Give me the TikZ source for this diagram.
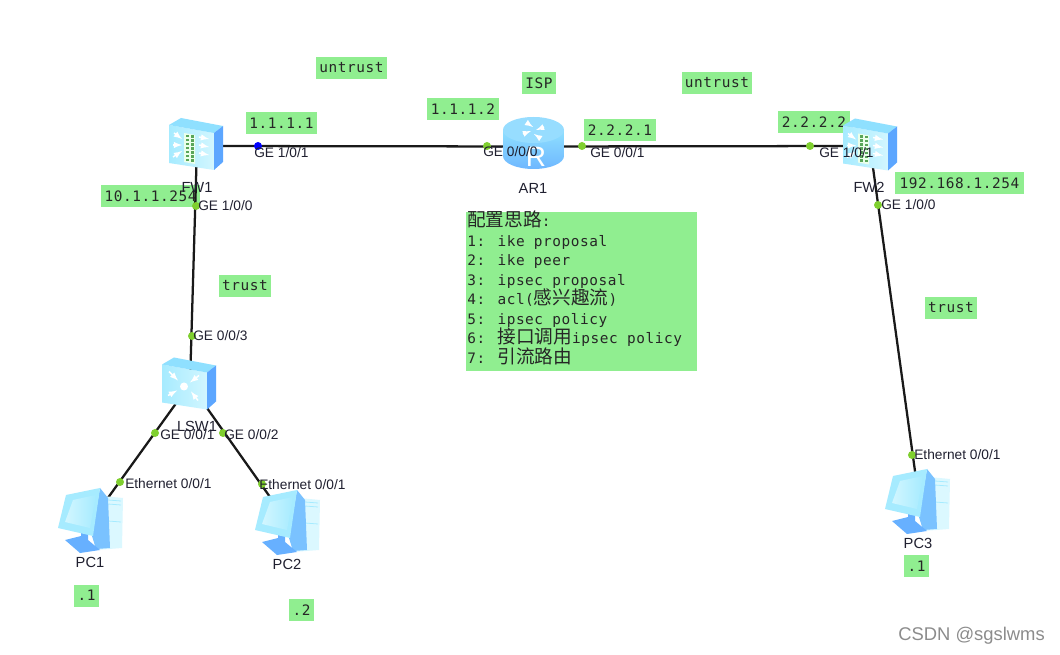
\documentclass[tikz,border=0pt]{standalone}
\usepackage{fontspec}
\setmainfont{Liberation Sans}
\newfontfamily\labfont[LetterSpace=4]{DejaVu Sans Mono}
\newfontfamily\cjkfont{Noto Sans CJK SC}
\newcommand{\zh}[1]{{\cjkfont\fontsize{14}{14.6}\selectfont #1}}
\newcommand{\notefont}{\labfont\fontsize{10.8}{14.6}\selectfont\lineskiplimit=-20pt\relax}
\definecolor{lab}{HTML}{90EE90}
\definecolor{port}{HTML}{7FCF2F}
\definecolor{ink}{HTML}{202030}
\definecolor{frontA}{HTML}{A6EBFF}
\definecolor{frontB}{HTML}{D2F6FF}
\definecolor{topf}{HTML}{8FE0FF}
\definecolor{sidef}{HTML}{5CA6FF}
\tikzset{
  glabel/.style={fill=lab,inner sep=0pt,minimum height=16.5pt,font=\labfont\fontsize{10.8}{12}\selectfont,text=black!85},
  hub/.style={inner sep=0pt,minimum size=0pt,outer sep=0pt},
  link/.style={line width=1.7pt,draw=black!90},
  portdot/.style={circle,fill=port,inner sep=0pt,minimum size=6pt},
  bluedot/.style={circle,fill=blue,inner sep=0pt,minimum size=6pt},
  plabel/.style={anchor=west,inner sep=0pt,font=\fontsize{10.3}{12}\selectfont,text=ink},
  dname/.style={inner sep=0pt,font=\fontsize{11}{13}\selectfont,text=ink},
  wh/.style={draw=white,line width=1.1pt,-latex},
  pics/boxbody/.style={code={
    \shade[left color=frontA,right color=frontB] (1,7) -- (46,15) -- (46,52) -- (1,45) -- cycle;
    \fill[topf] (1,7) -- (13,0) -- (55,8) -- (46,15) -- cycle;
    \fill[sidef] (46,15) -- (55,8) -- (55,44) -- (46,52) -- cycle;
  }},
  pics/fwicon/.style={code={
    \pic at (0,0) {boxbody};
    \fill[white!92!green] (16,15) -- (27,17) -- (27,46) -- (16,44) -- cycle;
    \foreach \yy in {17,21,25,29,33,37,41}{
      \fill[gray!70!green] (18,\yy) rectangle (21,\yy+2.5);
      \fill[gray!70!green] (22.5,\yy+.5) rectangle (25.5,\yy+3);
    }
    \foreach \yy in {18,26,34}{
      \draw[wh] (31,\yy+1) -- (41,\yy+3);
    }
    \draw[wh] (6,15) -- (14,21);
    \draw[wh] (5,27) -- (14,27);
    \draw[wh] (5,39) -- (14,33);
  }},
  pics/swicon/.style={code={
    \pic at (0,0) {boxbody};
    \fill[white] (23,29) circle (4);
    \draw[wh] (8,14) -- (17,23);
    \draw[wh] (38,18) -- (29,25);
    \draw[wh] (7,38) -- (16,33);
    \draw[wh] (37,43) -- (30,34);
  }},
  pics/aricon/.style={code={
    \shade[top color=topf,bottom color=sidef!75!frontA]
      (0,13) -- (0,39) arc[start angle=180,end angle=0,x radius=30.5,y radius=13] -- (61,13) -- cycle;
    \fill[frontA!80!sidef] (30.5,13) ellipse[x radius=30.5,y radius=13];
    \draw[wh,line width=1.1pt] (20,17) -- (28,14);
    \draw[wh,line width=1.1pt] (41,10) -- (33,13);
    \draw[wh,line width=1.1pt] (24,6) -- (30,10);
    \draw[wh,line width=1.1pt] (37,21) -- (31,17);
    \node[inner sep=0pt,text=white,font=\fontsize{21}{23}\selectfont] at (33,40) {R};
  }},
  pics/pcicon/.style={code={
    \fill[frontB!80!white] (44,8) -- (65,10) -- (64,60) -- (38,62) -- cycle;
    \draw[frontA,line width=.6pt] (50,12) -- (63,13) (50,16) -- (63,17) (50,33) -- (63,34);
    \fill[sidef!60!frontA] (42,0) -- (50,10) -- (52,60) -- (38,61) -- (34,48) -- cycle;
    \fill[sidef!85!frontA] (7,52) -- (23,48) -- (23,42) -- (30,45) -- (30,52) -- (42,62) -- (22,65) -- cycle;
    \fill[frontA] (8,7) -- (42,0) -- (35,48) -- (0,40) -- cycle;
    \shade[left color=frontB,right color=frontA] (15,12) -- (38,7) -- (32,40) -- (7,34) -- cycle;
  }}
}
\begin{document}
\begin{tikzpicture}[x=0.75pt,y=-0.75pt]
\useasboundingbox (0,0) rectangle (1060,655);
\fill[white] (0,0) rectangle (1060,655);
% green labels
\node[glabel,minimum width=53.25pt] (l1) at (351.5,68) {untrust};
\node[glabel,minimum width=53.25pt] (l2) at (281.5,123) {1.1.1.1};
\node[glabel,minimum width=74.25pt] (l3) at (150.5,196) {10.1.1.254};
\node[glabel,minimum width=54pt] (l4) at (463,109) {1.1.1.2};
\node[glabel,minimum width=25.5pt] (l5) at (539,83) {ISP};
\node[glabel,minimum width=54pt] (l6) at (620,130.5) {2.2.2.1};
\node[glabel,minimum width=52.5pt] (l7) at (717,83) {untrust};
\node[glabel,minimum width=54pt] (l8) at (814,122) {2.2.2.2};
\node[glabel,minimum width=96.75pt] (l9) at (959.5,183) {192.168.1.254};
\node[glabel,minimum width=39pt] (l10) at (245,286) {trust};
\node[glabel,minimum width=39pt] (l11) at (951,308) {trust};
\node[glabel,minimum width=18.75pt] (l12) at (86.5,595.5) {.1};
\node[glabel,minimum width=18.75pt] (l13) at (301.5,610) {.2};
\node[glabel,minimum width=18.75pt] (l14) at (916.5,566) {.1};
\node[fill=lab,inner sep=0pt,minimum width=173.25pt,minimum height=119.25pt] (notes) at (581.5,291.5) {};
\node[inner sep=0pt,anchor=north west,align=left,font=\notefont,text=black!85] (notetext) at (467,211) {%
\zh{配置思路}:\\
1: ike proposal\\
2: ike peer\\
3: ipsec proposal\\
4: acl(\zh{感兴趣流})\\
5: ipsec policy\\
6: \zh{接口调用}ipsec policy\\
7: \zh{引流路由}};
% device anchors
\node[hub] (fw1) at (197,146) {};
\node[hub] (ar1) at (533,146.5) {};
\node[hub] (fw2) at (870,146) {};
\node[hub] (lsw1) at (190,384) {};
\node[hub] (pc1) at (92,520) {};
\node[hub] (pc2) at (287,521) {};
\node[hub] (pc3) at (919,500) {};
% links
\draw[link] (fw1) -- (ar1);
\draw[link] (ar1) -- (fw2);
\draw[link] (fw1) -- (lsw1);
\draw[link] (lsw1) -- (pc1);
\draw[link] (lsw1) -- (pc2);
\draw[link] (fw2) -- (pc3);
% icons
\pic at (168,118) {fwicon};
\pic at (503,117) {aricon};
\pic at (842,118.5) {fwicon};
\pic at (161,357.5) {swicon};
\pic at (58,488) {pcicon};
\pic at (255,490) {pcicon};
\pic at (885,469) {pcicon};
% names
\node[dname] (nfw1) at (197,187) {FW1};
\node[dname] (nar1) at (533,188) {AR1};
\node[dname] (nfw2) at (869,187) {FW2};
\node[dname] (nsw) at (197,426) {LSW1};
\node[dname] (npc1) at (90,562) {PC1};
\node[dname] (npc2) at (287,564) {PC2};
\node[dname] (npc3) at (918,543) {PC3};
% ports
\node[bluedot] (p1) at (258,146) {};
\node[portdot] (p2) at (196,206) {};
\node[portdot] (p3) at (192,336) {};
\node[portdot] (p4) at (155,433) {};
\node[portdot] (p5) at (223,433) {};
\node[portdot] (p6) at (120,482) {};
\node[portdot] (p7) at (262,484) {};
\node[portdot] (p8) at (487,146) {};
\node[portdot] (p9) at (582,146) {};
\node[portdot] (p10) at (810,146) {};
\node[portdot] (p11) at (878,205) {};
\node[portdot] (p12) at (912,455) {};
\node[plabel] (t1) at (254,153) {GE 1/0/1};
\node[plabel] (t2) at (198,206) {GE 1/0/0};
\node[plabel] (t3) at (193,336) {GE 0/0/3};
\node[plabel] (t4) at (160,435) {GE 0/0/1};
\node[plabel] (t5) at (224,435) {GE 0/0/2};
\node[plabel] (t6) at (125,484) {Ethernet 0/0/1};
\node[plabel] (t7) at (259,485) {Ethernet 0/0/1};
\node[plabel] (t8) at (483,152) {GE 0/0/0};
\node[plabel] (t9) at (590,153) {GE 0/0/1};
\node[plabel] (t10) at (819,153) {GE 1/0/1};
\node[plabel] (t11) at (881,205) {GE 1/0/0};
\node[plabel] (t12) at (914,455) {Ethernet 0/0/1};
\node[anchor=east,inner sep=0pt,text=black!45,font=\fontsize{13.8}{15}\selectfont] (wm) at (1045,636) {CSDN @sgslwms};
\end{tikzpicture}
\end{document}
